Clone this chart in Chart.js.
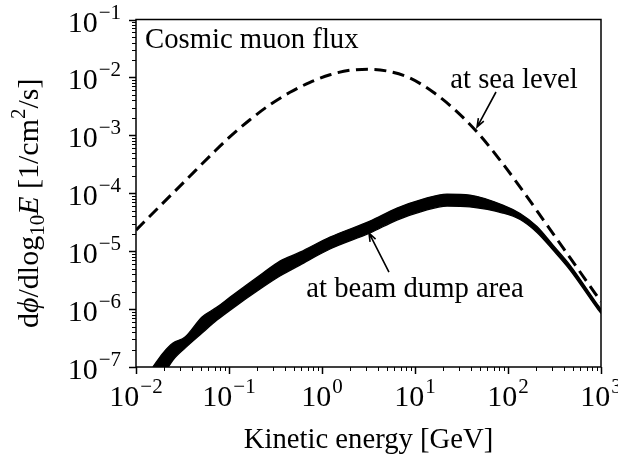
<!DOCTYPE html>
<html>
<head>
<meta charset="utf-8">
<title>Cosmic muon flux</title>
<script src="https://cdn.jsdelivr.net/npm/chart.js@4/dist/chart.umd.min.js"></script>
<style>
  html, body { margin: 0; padding: 0; background: #fff; }
  #wrap { width: 618px; height: 454px; }
</style>
</head>
<body>
<div id="wrap"><canvas id="fluxChart" width="618" height="454"></canvas></div>
<script>
// Muon flux at sea level (dashed curve), energy in GeV
const seaEnergy = [0.01, 0.0181, 0.0337, 0.0707, 0.1026, 0.168, 0.276, 0.453, 0.743, 1.22,
  2.0, 3.28, 5.38, 8.83, 15.6, 25.6, 46.5, 82, 135, 205, 305, 464, 1000];
const seaFlux = [2.31e-5, 6.0e-5, 1.63e-4, 5.36e-4, 9.46e-4, 1.86e-3, 3.38e-3, 5.53e-3, 8.22e-3, 1.11e-2,
  1.33e-2, 1.38e-2, 1.26e-2, 9.77e-3, 5.6e-3, 2.96e-3, 1.14e-3, 3.74e-4, 1.28e-4, 4.97e-5, 2.01e-5, 7.72e-6, 1.34e-6];

// Muon flux at the beam dump area: upper / lower edge of the band
const dumpEnergy = [0.0152, 0.0195, 0.025, 0.0337, 0.0513, 0.0743, 0.103, 0.232, 0.353, 0.579,
  1.22, 3.28, 6.4, 12.2, 22.1, 39, 88, 135, 205, 305, 464, 929, 1000];
const dumpUpper = [1.0e-7, 1.74e-7, 2.59e-7, 3.28e-7, 7.3e-7, 1.08e-6, 1.61e-6, 4.19e-6, 6.74e-6, 9.6e-6,
  1.75e-5, 3.31e-5, 5.55e-5, 7.94e-5, 9.68e-5, 9.3e-5, 6.25e-5, 4.46e-5, 2.66e-5, 1.27e-5, 5.75e-6, 1.17e-6, 1.0e-6];
const dumpLower = [4.8e-8, 7.2e-8, 1.32e-7, 2.12e-7, 3.85e-7, 6.45e-7, 9.6e-7, 2.4e-6, 3.72e-6, 5.75e-6,
  1.09e-5, 2.06e-5, 3.44e-5, 4.93e-5, 6.01e-5, 5.8e-5, 4.55e-5, 3.52e-5, 2.1e-5, 1.04e-5, 4.72e-6, 9.8e-7, 8.4e-7];

// Axis decades (exponents of 10)
const xExponents = [-2, -1, 0, 1, 2, 3];
const yExponents = [-7, -6, -5, -4, -3, -2, -1];

// Annotations: [text, text x, text y, arrow tail x, tail y, arrow tip x, tip y] in data units
const annotations = [
  ["at sea level", 116, 6.56e-3, 74.3, 5.6e-3, 46.5, 1.39e-3],
  ["at beam dump area", 10, 1.61e-6, 5.25, 4.35e-6, 3.2, 2.06e-5],
];

const SERIF = '"Liberation Serif", "Times New Roman", serif';
const TEXT_FONT = `28.7px ${SERIF}`;
const TICK_FONT = `30px ${SERIF}`;
const SUP_FONT = `21px ${SERIF}`;

function toPoints(xs, ys) {
  return xs.map((x, i) => ({ x, y: ys[i] }));
}

// "10" with a raised exponent; align = "center" or "right"
function drawPower(ctx, exp, x, baseline, align) {
  const expText = exp < 0 ? "\u2212" + Math.abs(exp) : String(exp);
  ctx.font = TICK_FONT;
  const wBase = ctx.measureText("10").width;
  ctx.font = SUP_FONT;
  const wExp = ctx.measureText(expText).width;
  const total = wBase + 1 + wExp;
  const x0 = align === "right" ? x - total : x - total / 2;
  ctx.textAlign = "left";
  ctx.textBaseline = "alphabetic";
  ctx.font = TICK_FONT;
  ctx.fillText("10", x0, baseline);
  ctx.font = SUP_FONT;
  ctx.fillText(expText, x0 + wBase + 1, baseline - 13);
}

// rich text run: [text, style] where style is "", "i", "sub" or "sup"
function drawRuns(ctx, runs, cx, baseline) {
  const fontFor = (s) => {
    if (s === "i") return `italic 30px ${SERIF}`;
    if (s === "sub" || s === "sup") return `21px ${SERIF}`;
    return `30px ${SERIF}`;
  };
  let total = 0;
  runs.forEach(([t, s]) => { ctx.font = fontFor(s); total += ctx.measureText(t).width; });
  let x = cx - total / 2;
  ctx.textAlign = "left";
  ctx.textBaseline = "alphabetic";
  runs.forEach(([t, s]) => {
    ctx.font = fontFor(s);
    let dy = 0;
    if (s === "sub") dy = 6;
    if (s === "sup") dy = -13;
    ctx.fillText(t, x, baseline + dy);
    x += ctx.measureText(t).width;
  });
}

const axesPlugin = {
  id: "logAxes",
  afterDraw(chart) {
    const ctx = chart.ctx;
    const { left, right, top, bottom } = chart.chartArea;
    const xs = chart.scales.x;
    const ys = chart.scales.y;
    ctx.save();
    ctx.fillStyle = "#000";
    ctx.strokeStyle = "#000";

    // frame
    ctx.lineWidth = 1.5;
    ctx.strokeRect(left, top, right - left, bottom - top);

    // x ticks (outward, down)
    xExponents.forEach((k) => {
      for (let j = 1; j <= 9; j++) {
        const v = j * Math.pow(10, k);
        if (v < xs.min * 0.999 || v > xs.max * 1.001) continue;
        const px = Math.round(xs.getPixelForValue(v)) + 0.5;
        ctx.lineWidth = j === 1 ? 1.5 : 1;
        ctx.beginPath();
        ctx.moveTo(px, bottom);
        ctx.lineTo(px, bottom + (j === 1 ? 7 : 4));
        ctx.stroke();
      }
      drawPower(ctx, k, xs.getPixelForValue(Math.pow(10, k)), bottom + 39, "center");
    });

    // y ticks (outward, left)
    yExponents.forEach((k) => {
      for (let j = 1; j <= 9; j++) {
        const v = j * Math.pow(10, k);
        if (v < ys.min * 0.999 || v > ys.max * 1.001) continue;
        const py = Math.round(ys.getPixelForValue(v)) + 0.5;
        ctx.lineWidth = j === 1 ? 1.5 : 1;
        ctx.beginPath();
        ctx.moveTo(left, py);
        ctx.lineTo(left - (j === 1 ? 7 : 4), py);
        ctx.stroke();
      }
      drawPower(ctx, k, left - 15, ys.getPixelForValue(Math.pow(10, k)) + 12, "right");
    });

    // axis titles
    ctx.font = TEXT_FONT;
    ctx.textAlign = "center";
    ctx.fillText("Kinetic energy [GeV]", (left + right) / 2, bottom + 81);

    ctx.save();
    ctx.translate(38, (top + bottom) / 2 + 10);
    ctx.rotate(-Math.PI / 2);
    drawRuns(ctx, [
      ["d", ""], ["\u03d5", "i"], ["/dlog", ""], ["10", "sub"], ["E", "i"],
      [" [1/cm", ""], ["2", "sup"], ["/s]", ""],
    ], 0, 0);
    ctx.restore();

    // panel label
    ctx.font = TEXT_FONT;
    ctx.textAlign = "left";
    ctx.fillText("Cosmic muon flux", left + 9, top + 28);

    // annotations with arrows
    annotations.forEach(([text, tx, ty, ax, ay, bx, by]) => {
      ctx.font = TEXT_FONT;
      ctx.textAlign = "center";
      ctx.fillText(text, xs.getPixelForValue(tx), ys.getPixelForValue(ty));
      const x1 = xs.getPixelForValue(ax), y1 = ys.getPixelForValue(ay);
      const x2 = xs.getPixelForValue(bx), y2 = ys.getPixelForValue(by);
      const ang = Math.atan2(y2 - y1, x2 - x1);
      ctx.lineWidth = 1.6;
      ctx.beginPath();
      ctx.moveTo(x1, y1);
      ctx.lineTo(x2, y2);
      ctx.moveTo(x2 - 9 * Math.cos(ang - 0.35), y2 - 9 * Math.sin(ang - 0.35));
      ctx.lineTo(x2, y2);
      ctx.lineTo(x2 - 9 * Math.cos(ang + 0.35), y2 - 9 * Math.sin(ang + 0.35));
      ctx.stroke();
    });

    ctx.restore();
  },
};

const ctx = document.getElementById("fluxChart").getContext("2d");
new Chart(ctx, {
  type: "line",
  data: {
    datasets: [
      {
        label: "at sea level",
        data: toPoints(seaEnergy, seaFlux),
        borderColor: "#000",
        borderWidth: 3,
        borderDash: [12, 6.5],
        pointRadius: 0,
        fill: false,
        cubicInterpolationMode: "monotone",
      },
      {
        label: "at beam dump area (upper)",
        data: toPoints(dumpEnergy, dumpUpper),
        borderColor: "#000",
        borderWidth: 1.3,
        pointRadius: 0,
        fill: false,
        cubicInterpolationMode: "monotone",
      },
      {
        label: "at beam dump area (lower)",
        data: toPoints(dumpEnergy, dumpLower),
        borderColor: "#000",
        backgroundColor: "#000",
        borderWidth: 1.3,
        pointRadius: 0,
        fill: "-1",
        cubicInterpolationMode: "monotone",
      },
    ],
  },
  options: {
    responsive: false,
    animation: false,
    devicePixelRatio: 1,
    layout: { padding: { left: 136, right: 17, top: 19.5, bottom: 87 } },
    plugins: { legend: { display: false }, tooltip: { enabled: false } },
    scales: {
      x: { type: "logarithmic", min: 1e-2, max: 1e3, display: false },
      y: { type: "logarithmic", min: 1e-7, max: 1e-1, display: false },
    },
  },
  plugins: [axesPlugin],
});
</script>
</body>
</html>
